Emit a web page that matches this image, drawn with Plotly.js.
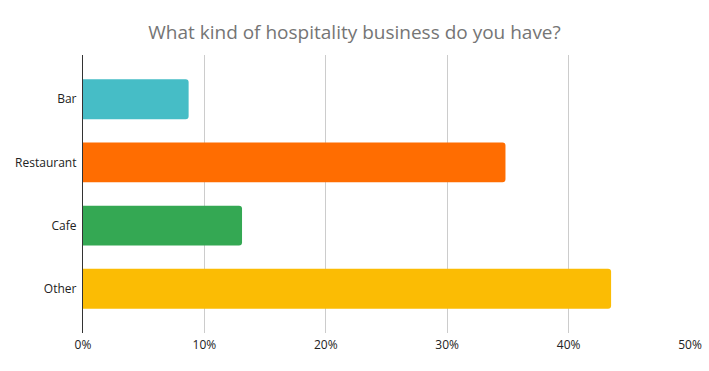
<!DOCTYPE html>
<html>
<head>
<meta charset="utf-8">
<script src="https://cdn.plot.ly/plotly-3.0.1.min.js"></script>
<style>html,body{margin:0;padding:0;background:#fff;}#chart{width:709px;height:371px;}</style>
</head>
<body>
<div id="chart"></div>
<script>
const categories = ["Bar", "Restaurant", "Cafe", "Other"];
const shares = [0.087, 0.348, 0.131, 0.435];
const colors = ["#46BDC6", "#FF6D01", "#34A853", "#FBBC04"];
const tickVals = [0, 0.1, 0.2, 0.3, 0.4, 0.5];

const trace = {
  type: "bar",
  orientation: "h",
  y: categories,
  x: shares,
  marker: {color: colors, cornerradius: 3},
  hoverinfo: "none"
};

const layout = {
  width: 709, height: 371,
  margin: {l: 83, r: 19, t: 55, b: 38},
  paper_bgcolor: "#fff", plot_bgcolor: "#fff",
  font: {family: "Open Sans, sans-serif", size: 12, color: "#222"},
  title: {
    text: "What kind of hospitality business do you have?",
    font: {family: "Open Sans, sans-serif", size: 19, color: "#757575"},
    x: 0.5, xanchor: "center", xref: "container",
    y: 1 - 32/371, yanchor: "middle", yref: "container"
  },
  bargap: 0.37,
  showlegend: false,
  xaxis: {
    range: [0, 0.5],
    tickvals: tickVals,
    tickformat: ".0%",
    showgrid: true, gridcolor: "#cccccc", gridwidth: 1,
    zeroline: false, showline: false,
    ticks: "", ticklen: 0,
    ticklabelstandoff: 3,
    tickfont: {size: 12, color: "#222"}
  },
  yaxis: {
    type: "category",
    range: [3.7, -0.7],
    showline: true, linecolor: "#333333", linewidth: 1,
    showgrid: false, zeroline: false,
    ticks: "", ticklen: 0,
    ticksuffix: " ",
    tickfont: {size: 12, color: "#222"}
  }
};

Plotly.newPlot("chart", [trace], layout, {staticPlot: true, displayModeBar: false});
</script>
</body>
</html>
